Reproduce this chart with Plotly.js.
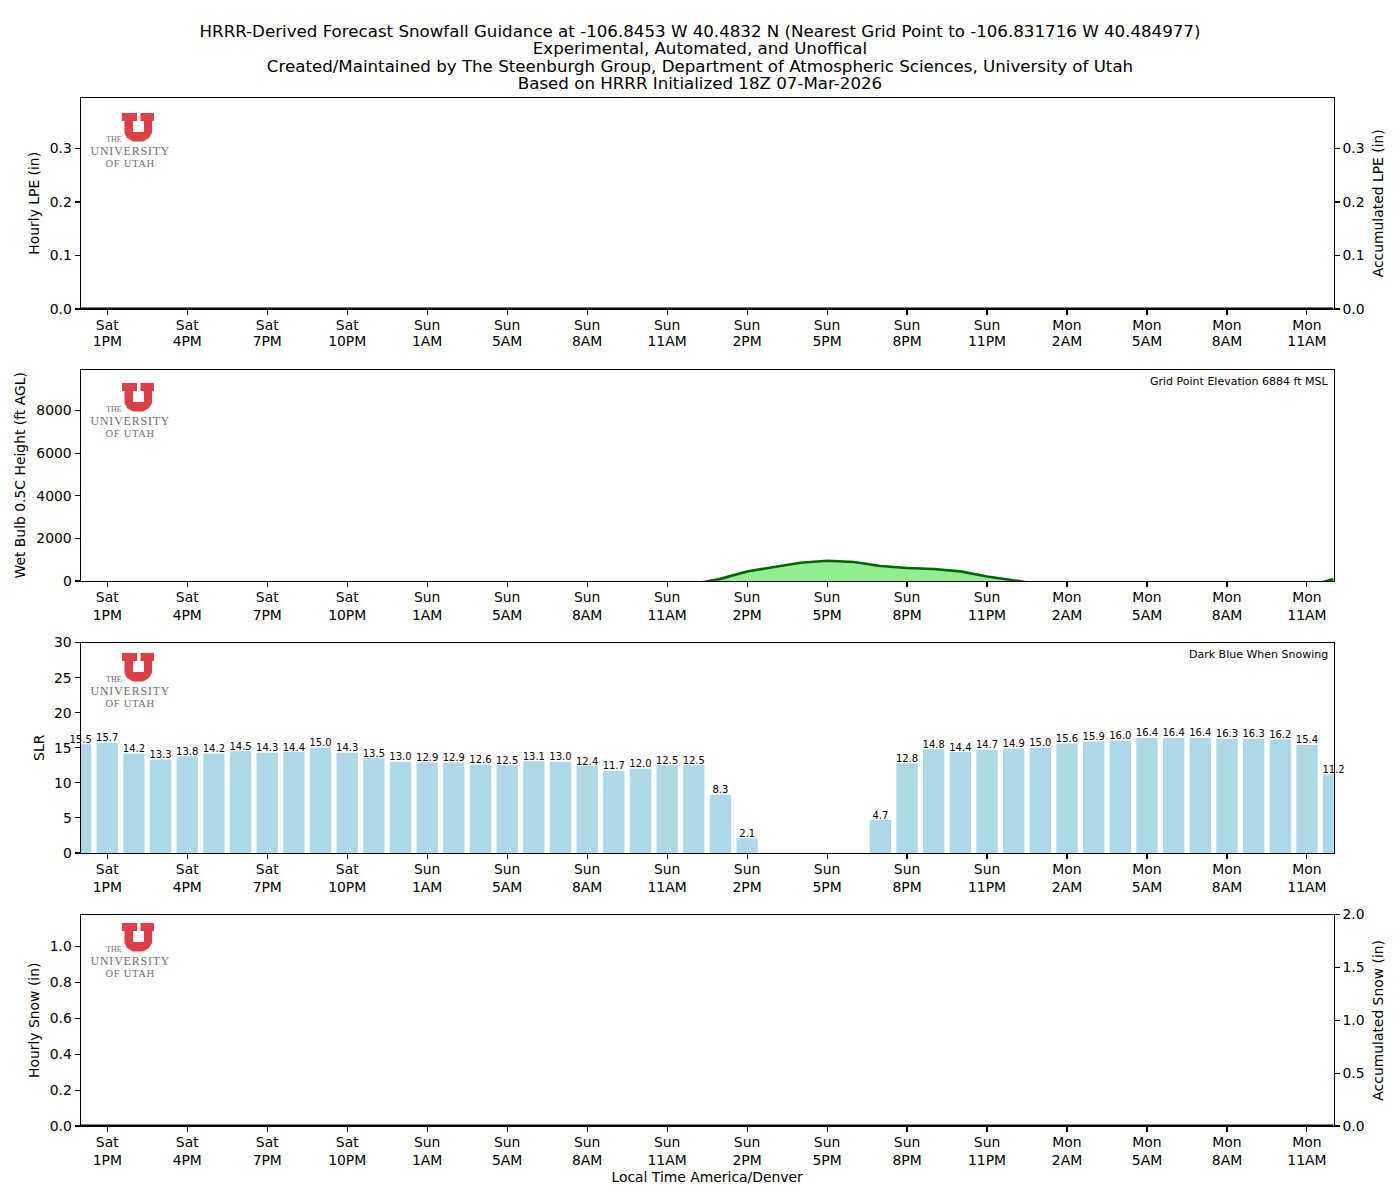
<!DOCTYPE html>
<html><head><meta charset="utf-8">
<script src="https://cdn.plot.ly/plotly-3.0.1.min.js"></script>
<style>html,body{margin:0;padding:0;background:#fff}</style></head>
<body><div id="chart" style="width:1400px;height:1200px"></div>
<script>
const titleLines = [
  "HRRR-Derived Forecast Snowfall Guidance at -106.8453 W 40.4832 N (Nearest Grid Point to -106.831716 W 40.484977)",
  "Experimental, Automated, and Unoffical",
  "Created/Maintained by The Steenburgh Group, Department of Atmospheric Sciences, University of Utah",
  "Based on HRRR Initialized 18Z 07-Mar-2026"
];
const forecastHours = [-1,0,1,2,3,4,5,6,7,8,9,10,11,12,13,14,15,16,17,18,19,20,21,22,23,24,25,26,27,28,29,30,31,32,33,34,35,36,37,38,39,40,41,42,43,44,45,46];
const tickHours = [0,3,6,9,12,15,18,21,24,27,30,33,36,39,42,45];
const tickLabels = ["Sat<br>1PM","Sat<br>4PM","Sat<br>7PM","Sat<br>10PM","Sun<br>1AM","Sun<br>5AM","Sun<br>8AM","Sun<br>11AM","Sun<br>2PM","Sun<br>5PM","Sun<br>8PM","Sun<br>11PM","Mon<br>2AM","Mon<br>5AM","Mon<br>8AM","Mon<br>11AM"];
const hourlyLpe = [0,0,0,0,0,0,0,0,0,0,0,0,0,0,0,0,0,0,0,0,0,0,0,0,0,0,0,0,0,0,0,0,0,0,0,0,0,0,0,0,0,0,0,0,0,0,0,0];
const hourlySnow = hourlyLpe.slice();
const accumLpe = hourlyLpe.slice();
const accumSnow = hourlyLpe.slice();
const wetBulbHeight = [null,null,null,null,null,null,null,null,null,null,null,null,null,null,null,null,null,null,null,null,null,null,null,-140,100,450,670,860,950,890,700,610,560,450,214,50,-150,null,null,null,null,null,null,null,null,null,-260,90];
const slr = [15.5,15.7,14.2,13.3,13.8,14.2,14.5,14.3,14.4,15.0,14.3,13.5,13.0,12.9,12.9,12.6,12.5,13.1,13.0,12.4,11.7,12.0,12.5,12.5,8.3,2.1,null,null,null,null,4.7,12.8,14.8,14.4,14.7,14.9,15.0,15.6,15.9,16.0,16.4,16.4,16.4,16.3,16.3,16.2,15.4,11.2];

const W = 1400, H = 1200;
const FONT = "DejaVu Sans, sans-serif";
const px = x => x / W, py = y => 1 - y / H;
const panels = [[97.6,309],[369.6,581],[642.6,853],[914.6,1126]];
const dom = i => [py(panels[i][1]), py(panels[i][0])];

const xAxis = (i, extra) => Object.assign({
  domain:[px(80.6),px(1333.6)], range:[-1,46], tickmode:'array', tickvals:tickHours, ticktext:tickLabels,
  ticks:'outside', ticklen:5, tickwidth:1.1, tickcolor:'#000', showline:true, linecolor:'#000', linewidth:1.1,
  mirror:true, showgrid:false, zeroline:false, tickfont:{family:FONT,size:13.9,color:'#000'}, anchor:'y'+(i+1), tickangle:0, ticklabelstandoff:-2
}, extra||{});
const yAxis = (i, text, range, tickvals, ticktext, standoff) => ({
  domain:dom(i), range, tickmode:'array', tickvals, ticktext, ticks:'outside', ticklen:5, tickwidth:1.1, tickcolor:'#000',
  showline:true, linecolor:'#000', linewidth:1.1, mirror:true, showgrid:false, zeroline:false,
  tickfont:{family:FONT,size:13.9,color:'#000'}, anchor:'x'+(i+1),
  title:{text, font:{family:FONT,size:13.9,color:'#000'}, standoff}
});
const yRight = (i, n, text, range, tickvals, ticktext, standoff) => Object.assign(
  yAxis(i,text,range,tickvals,ticktext,standoff), {overlaying:'y'+n, side:'right', mirror:false});

const traces = [
  {type:'bar', x:forecastHours, y:hourlyLpe, xaxis:'x', yaxis:'y', marker:{color:'#00008B'}, width:0.8, name:'Hourly LPE'},
  {type:'scatter', mode:'lines', x:forecastHours, y:accumLpe, xaxis:'x', yaxis:'y5', line:{color:'#000',width:3}, name:'Accumulated LPE'},
  {type:'scatter', mode:'lines', x:forecastHours, y:wetBulbHeight, xaxis:'x2', yaxis:'y2', fill:'tozeroy', fillcolor:'#90EE90', line:{color:'#006400',width:2.6}, name:'Wet Bulb 0.5C Height'},
  {type:'bar', x:forecastHours, y:slr, xaxis:'x3', yaxis:'y3', marker:{color:'#ADD8E6'}, width:0.8, name:'SLR'},
  {type:'scatter', mode:'text', x:forecastHours, y:slr, text:slr.map(v => v===null ? '' : v.toFixed(1)), textposition:'top center', textfont:{family:FONT,size:10,color:'#000'}, xaxis:'x3', yaxis:'y3', cliponaxis:false, name:'SLR labels'},
  {type:'bar', x:forecastHours, y:hourlySnow, xaxis:'x4', yaxis:'y4', marker:{color:'#00008B'}, width:0.8, name:'Hourly Snow'},
  {type:'scatter', mode:'lines', x:forecastHours, y:accumSnow, xaxis:'x4', yaxis:'y6', line:{color:'#000',width:3}, name:'Accumulated Snow'}
];

const uOutline = [[0,0],[15,0],[15,8],[11,8],[11,19],[22,19],[22,8],[18.5,8],[18.5,0],[32,0],[32,8],[30,8],[30,20],[27,25],[21,28.5],[11,28.5],[5,25],[2.5,20],[2.5,8],[0,8]];
const shapes = [], annotations = [];
const logoTops = [113,383,653,923];
logoTops.forEach(top => {
  const d = uOutline.map((p,i) => (i?'L':'M') + px(122+p[0]).toFixed(5) + ',' + py(top+p[1]).toFixed(5)).join(' ') + ' Z';
  shapes.push({type:'path', xref:'paper', yref:'paper', path:d, fillcolor:'#dc4045', line:{width:0}, layer:'above'});
  [["THE",113.5,top+26,8],["UNIVERSITY",130,top+38,11.8],["OF UTAH",130,top+50,10.5]].forEach(t => {
    annotations.push({xref:'paper', yref:'paper', x:px(t[1]), y:py(t[2]), text:t[0], showarrow:false, xanchor:'center', yanchor:'middle',
      font:{family:'Liberation Serif, serif', size:t[3], color:'#6e6e6e'}});
  });
});
annotations.push({xref:'paper',yref:'paper',x:px(1329.5),y:py(381),text:'Grid Point Elevation 6884 ft MSL',showarrow:false,xanchor:'right',yanchor:'middle',font:{family:FONT,size:11,color:'#000'}});
annotations.push({xref:'paper',yref:'paper',x:px(1329.5),y:py(654),text:'Dark Blue When Snowing',showarrow:false,xanchor:'right',yanchor:'middle',font:{family:FONT,size:11,color:'#000'}});

const layout = {
  width:W, height:H, margin:{l:0,r:0,t:0,b:0}, paper_bgcolor:'#fff', plot_bgcolor:'#fff', showlegend:false, barmode:'overlay', hovermode:false,
  title:{text:titleLines.join('<br>'), font:{family:FONT,size:16.67,color:'#000'}, x:0.5, xanchor:'center', y:py(37), yanchor:'top'},
  xaxis:xAxis(0), xaxis2:xAxis(1), xaxis3:xAxis(2),
  xaxis4:xAxis(3,{title:{text:'Local Time America/Denver', font:{family:FONT,size:13.9,color:'#000'}, standoff:5}}),
  yaxis:yAxis(0,'Hourly LPE (in)',[0,0.395],[0,0.1,0.2,0.3],['0.0','0.1','0.2','0.3'],6.6),
  yaxis2:yAxis(1,'Wet Bulb 0.5C Height (ft AGL)',[0,9918],[0,2000,4000,6000,8000],['0','2000','4000','6000','8000'],6.6),
  yaxis3:yAxis(2,'SLR',[0,30],[0,5,10,15,20,25,30],['0','5','10','15','20','25','30'],5.8),
  yaxis4:yAxis(3,'Hourly Snow (in)',[0,1.178],[0,0.2,0.4,0.6,0.8,1.0],['0.0','0.2','0.4','0.6','0.8','1.0'],6.6),
  yaxis5:yRight(0,1,'Accumulated LPE (in)',[0,0.395],[0,0.1,0.2,0.3],['0.0','0.1','0.2','0.3'],9),
  yaxis6:yRight(3,4,'Accumulated Snow (in)',[0,2.0],[0,0.5,1.0,1.5,2.0],['0.0','0.5','1.0','1.5','2.0'],9),
  shapes, annotations
};
layout.yaxis5.overlaying = 'y'; layout.yaxis5.anchor = 'x';
layout.yaxis6.overlaying = 'y4'; layout.yaxis6.anchor = 'x4';
Plotly.newPlot('chart', traces, layout, {displayModeBar:false, staticPlot:true}).then(gd => {
  // tighter multi-line leading and small text refinements the layout API does not expose
  gd.querySelectorAll('.gtitle tspan.line').forEach((t,i) => t.setAttribute('dy', (i*1.044)+'em'));
  gd.querySelectorAll('.xtick text tspan.line').forEach(t => {
    if (t.getAttribute('dy') && parseFloat(t.getAttribute('dy'))>0) t.setAttribute('dy','1.2em');
  });
  gd.querySelectorAll('.textpoint text').forEach(t => {
    t.setAttribute('transform', 'translate(0,1)');
  });
  gd.querySelectorAll('.annotation-text').forEach(t => {
    const s = t.textContent;
    if (s==='UNIVERSITY') t.style.letterSpacing='0.9px';
    if (s==='OF UTAH') t.style.letterSpacing='0.7px';
  });
});
</script></body></html>
